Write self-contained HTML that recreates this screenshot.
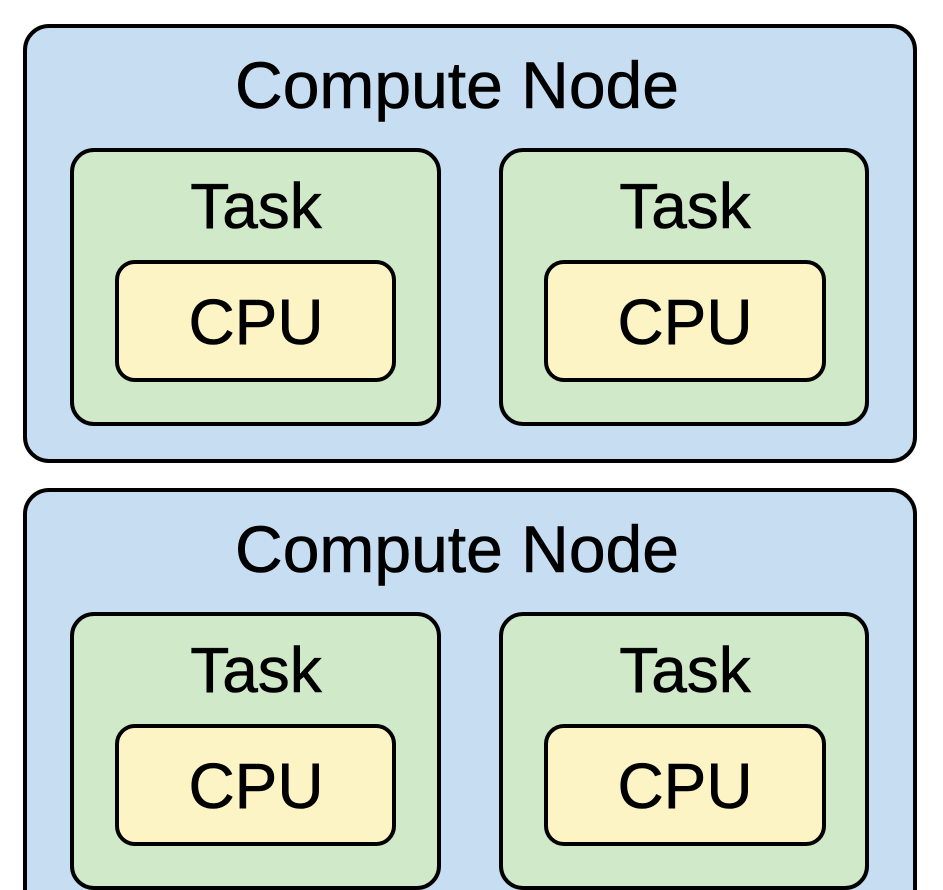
<!DOCTYPE html>
<html><head><meta charset="utf-8"><style>
html,body{margin:0;padding:0;background:#fff;}
svg{display:block}
text{font-family:"Liberation Sans",sans-serif;fill:#000;text-anchor:middle;stroke:#000;stroke-width:0.6}
</style></head><body>
<svg width="943" height="890" viewBox="0 0 943 890" xmlns="http://www.w3.org/2000/svg">
<rect width="943" height="890" fill="#fff"/>
<g stroke="#000" stroke-width="4">
<rect x="25" y="26" width="890" height="435" rx="24" fill="#c6ddf2"/>
<rect x="72" y="150" width="367" height="274" rx="22" fill="#d0e9c8"/>
<rect x="501" y="150" width="366" height="274" rx="22" fill="#d0e9c8"/>
<rect x="117" y="262" width="277" height="118" rx="18" fill="#fcf4c4"/>
<rect x="546" y="262" width="278" height="118" rx="18" fill="#fcf4c4"/>

<rect x="25" y="490" width="890" height="435" rx="24" fill="#c6ddf2"/>
<rect x="72" y="614" width="367" height="274" rx="22" fill="#d0e9c8"/>
<rect x="501" y="614" width="366" height="274" rx="22" fill="#d0e9c8"/>
<rect x="117" y="726" width="277" height="118" rx="18" fill="#fcf4c4"/>
<rect x="546" y="726" width="278" height="118" rx="18" fill="#fcf4c4"/>
</g>
<g font-size="66">
<text x="457" y="108">Compute Node</text>
<text x="457" y="572">Compute Node</text>
</g>
<g font-size="64">
<text x="256" y="228">Task</text>
<text x="685" y="228">Task</text>
<text x="256" y="344">CPU</text>
<text x="685" y="344">CPU</text>
<text x="256" y="692">Task</text>
<text x="685" y="692">Task</text>
<text x="256" y="808">CPU</text>
<text x="685" y="808">CPU</text>
</g>
</svg>
</body></html>
